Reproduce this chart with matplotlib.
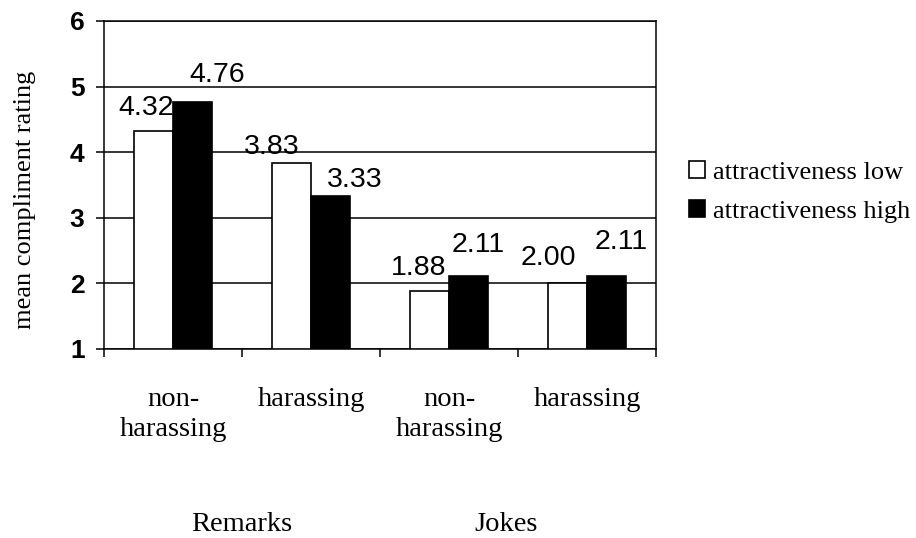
import matplotlib
matplotlib.use("Agg")
import matplotlib.pyplot as plt
from matplotlib.patches import Patch
import matplotlib.transforms as mtransforms
import numpy as np

categories = ["non-\nharassing", "harassing", "non-\nharassing", "harassing"]
groups = ["Remarks", "Jokes"]
series_names = ["attractiveness low", "attractiveness high"]
low_values = [4.32, 3.83, 1.88, 2.00]
high_values = [4.76, 3.33, 2.11, 2.11]
y_ticks = [1, 2, 3, 4, 5, 6]

# label offsets in pixels (dx, dy above bar top)
low_offsets = [(-7.5, 16), (-20, 9), (-11, 16.5), (-18.5, 18)]
high_offsets = [(24, 20), (24, 9), (9.5, 24), (14, 27)]
group_pos = [0.5, 2.41]

W, H = 916, 538
fig = plt.figure(figsize=(W / 100, H / 100), dpi=100)
ax = fig.add_axes([104 / W, 1 - 349 / H, 552 / W, 328 / H])

serif = "Liberation Serif"
sans = "Liberation Sans"

x = np.arange(len(categories))
bw = 1 / 3.5
ax.set_axisbelow(True)
ax.yaxis.grid(True, color="black", linewidth=1.1)
ax.bar(x - bw / 2, np.array(low_values) - 1, bw, bottom=1, color="white",
       edgecolor="black", linewidth=1.2, zorder=3)
ax.bar(x + bw / 2, np.array(high_values) - 1, bw, bottom=1, color="black",
       edgecolor="black", linewidth=1.2, zorder=3)

px = 0.72
for xi, v, (dx, dy) in zip(x - bw / 2, low_values, low_offsets):
    ax.annotate(f"{v:.2f}", (xi, v), xytext=(dx * px, dy * px), textcoords="offset points",
                ha="center", va="baseline", fontsize=20.5, family=sans, zorder=5)
for xi, v, (dx, dy) in zip(x + bw / 2, high_values, high_offsets):
    ax.annotate(f"{v:.2f}", (xi, v), xytext=(dx * px, dy * px), textcoords="offset points",
                ha="center", va="baseline", fontsize=20.5, family=sans, zorder=5)

ax.set_xlim(-0.5, len(categories) - 0.5)
ax.set_ylim(1, 6)
ax.set_yticks(y_ticks)
ax.set_yticklabels([str(t) for t in y_ticks], fontsize=19, fontweight="bold", family=sans)
ax.tick_params(axis="y", direction="out", length=6, width=1.1, pad=8)

ax.set_xticks(x)
ax.set_xticklabels(categories, fontsize=20.5, family=serif, linespacing=1.3)
ax.tick_params(axis="x", which="major", length=0, pad=27)
ax.set_xticks(np.arange(-0.5, len(categories), 1), minor=True)
ax.tick_params(axis="x", which="minor", direction="out", length=6, width=1.1)

for s in ax.spines.values():
    s.set_color("black")
    s.set_linewidth(1.1)

gtrans = mtransforms.blended_transform_factory(ax.transData, fig.transFigure)
for gp, gname in zip(group_pos, groups):
    ax.text(gp, 1 - 531 / H, gname, transform=gtrans, ha="center", va="baseline",
            fontsize=20.5, family=serif)

fig.text(25 / W, 1 - 200 / H, "mean compliment rating", rotation=90, ha="center", va="center",
         fontsize=19, family=serif)

handles = [Patch(facecolor="white", edgecolor="black", linewidth=1.2),
           Patch(facecolor="black", edgecolor="black", linewidth=1.2)]
fig.legend(handles, series_names, loc="center left", bbox_to_anchor=(689 / W, 1 - 192 / H),
           frameon=False, prop={"family": serif, "size": 19}, handlelength=0.6,
           handleheight=0.6, handletextpad=0.3, labelspacing=0.6, borderpad=0,
           borderaxespad=0)

fig.savefig("out.png", dpi=100)
